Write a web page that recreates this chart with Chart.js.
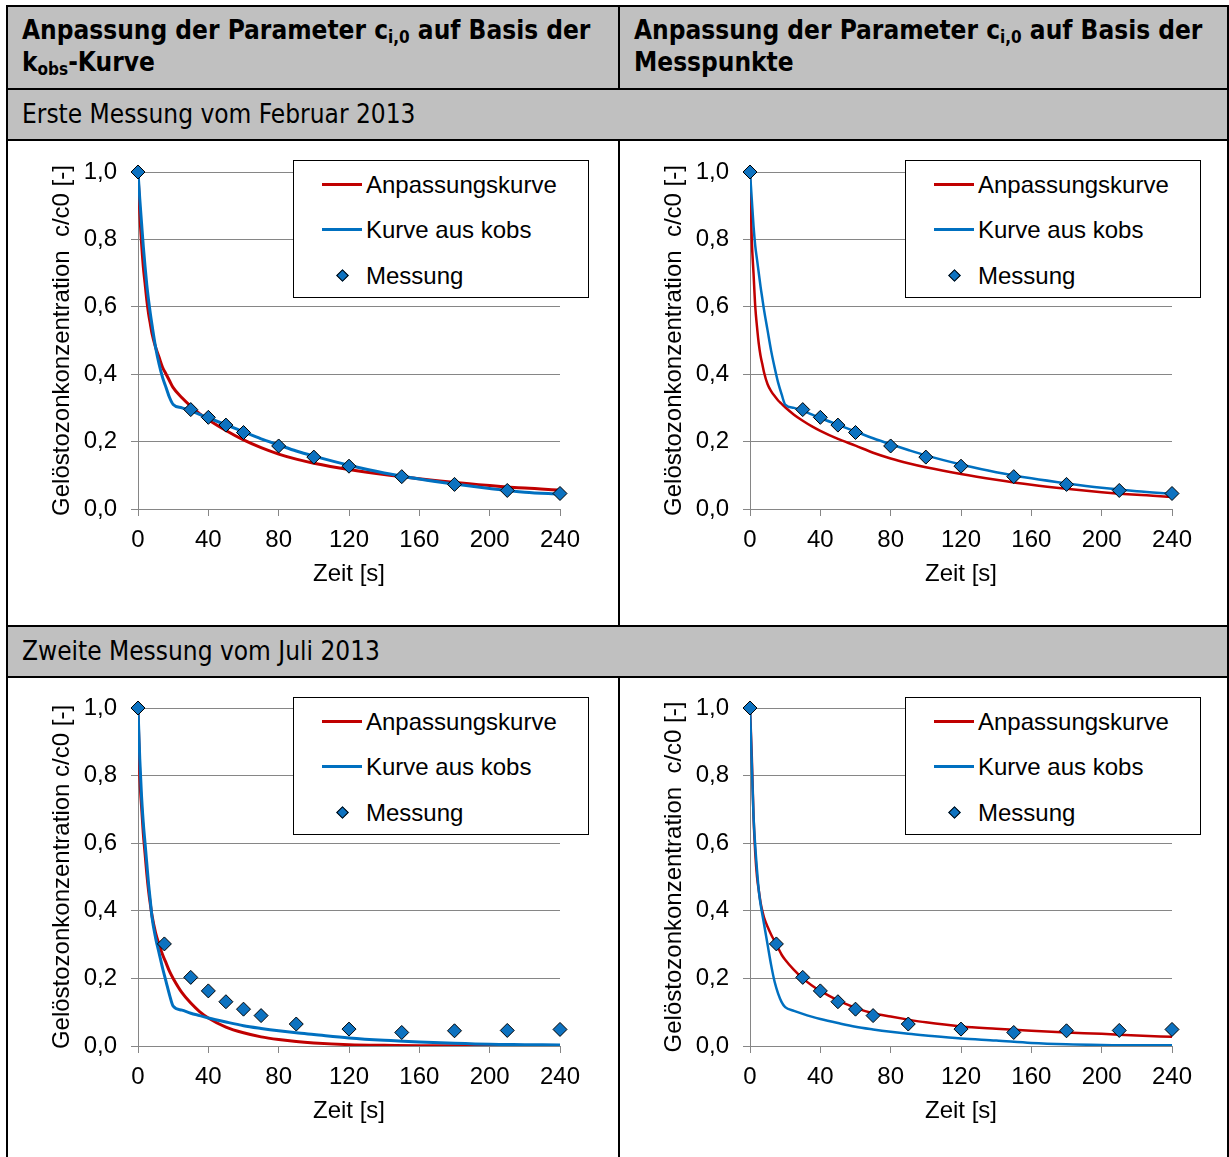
<!DOCTYPE html>
<html lang="de">
<head>
<meta charset="UTF-8">
<title>Gelöstozonkonzentration</title>
<script src="https://cdn.jsdelivr.net/npm/chart.js@4.4.1/dist/chart.umd.min.js"></script>
<style>
  body { margin: 0; background: #fff; }
  #sheet { position: absolute; left: 6px; top: 5px; width: 1223px; height: 1160px; background: #000; overflow: hidden; }
  .cell { position: absolute; background: #fff; }
  .gray { background: #c0c0c0; }
  .head { font-family: "DejaVu Sans Condensed", "DejaVu Sans", sans-serif; font-weight: bold; font-size: 26px; line-height: 32px; padding: 7px 0 0 14px; box-sizing: border-box; }
  .head sub { font-size: 17px; vertical-align: -4px; line-height: 0; }
  .section { font-family: "DejaVu Sans Condensed", "DejaVu Sans", sans-serif; font-size: 26px; line-height: 49px; padding-left: 14px; box-sizing: border-box; }
  .legend { position: absolute; top: 19px; width: 296px; height: 138px; border: 1px solid #000; background: #fff; box-sizing: border-box;
            font-family: "Liberation Sans", Arial, sans-serif; font-size: 24px; }
  .legend .row { position: absolute; left: 0; height: 30px; width: 100%; }
  .legend .swatch { position: absolute; left: 28px; top: 13px; width: 40px; height: 3px; }
  .legend .dia { position: absolute; left: 44px; top: 10px; width: 7px; height: 7px; border: 1px solid #000; transform: rotate(45deg); background: #0d72c0; }
  .legend .txt { position: absolute; left: 72px; top: 0; line-height: 30px; }
  canvas { position: absolute; left: 0; top: 0; }
</style>
</head>
<body>
<div id="sheet">
  <div class="cell gray head" style="left:2px;top:2px;width:610px;height:81px">Anpassung der Parameter c<sub>i,0</sub> auf Basis der<br>k<sub>obs</sub>-Kurve</div>
  <div class="cell gray head" style="left:614px;top:2px;width:607px;height:81px">Anpassung der Parameter c<sub>i,0</sub> auf Basis der<br>Messpunkte</div>
  <div class="cell gray section" style="left:2px;top:85px;width:1219px;height:49px">Erste Messung vom Februar 2013</div>
  <div class="cell" id="cell1" style="left:2px;top:136px;width:610px;height:484px"><canvas id="chart1" width="610" height="484"></canvas></div>
  <div class="cell" id="cell2" style="left:614px;top:136px;width:607px;height:484px"><canvas id="chart2" width="607" height="484"></canvas></div>
  <div class="cell gray section" style="left:2px;top:622px;width:1219px;height:49px">Zweite Messung vom Juli 2013</div>
  <div class="cell" id="cell3" style="left:2px;top:673px;width:610px;height:484px"><canvas id="chart3" width="610" height="484"></canvas></div>
  <div class="cell" id="cell4" style="left:614px;top:673px;width:607px;height:484px"><canvas id="chart4" width="607" height="484"></canvas></div>
</div>

<script>
// Zeitraster der berechneten Kurven [s]
const curveTimes = [0, 1, 2, 3, 4, 5, 6, 7, 8, 10, 12, 14, 16, 18, 20, 25, 30, 35, 40, 50, 60, 70, 80, 90, 100, 120, 140, 160, 180, 200, 220, 240];

// Februar 2013, Anpassung auf Basis der kobs-Kurve
const febFitKobs  = [1.0, 0.88, 0.79, 0.72, 0.67, 0.62, 0.58, 0.55, 0.52, 0.48, 0.45, 0.42, 0.40, 0.38, 0.36, 0.33, 0.305, 0.283, 0.265, 0.233, 0.205, 0.182, 0.163, 0.148, 0.136, 0.117, 0.102, 0.090, 0.079, 0.070, 0.062, 0.056];
const febKobs1    = [1.0, 0.92, 0.85, 0.78, 0.72, 0.665, 0.62, 0.58, 0.545, 0.48, 0.43, 0.39, 0.36, 0.33, 0.31, 0.30, 0.292, 0.281, 0.27, 0.25, 0.229, 0.208, 0.19, 0.172, 0.157, 0.13, 0.107, 0.089, 0.074, 0.061, 0.05, 0.044];
// Februar 2013, Anpassung auf Basis der Messpunkte
const febFitMess  = [1.0, 0.80, 0.70, 0.60, 0.54, 0.49, 0.455, 0.43, 0.405, 0.37, 0.35, 0.335, 0.322, 0.312, 0.302, 0.28, 0.262, 0.246, 0.232, 0.208, 0.188, 0.167, 0.15, 0.136, 0.124, 0.104, 0.087, 0.072, 0.06, 0.05, 0.042, 0.036];
const febKobs2    = [1.0, 0.92, 0.84, 0.78, 0.74, 0.70, 0.66, 0.625, 0.59, 0.53, 0.47, 0.42, 0.375, 0.34, 0.31, 0.30, 0.292, 0.281, 0.27, 0.25, 0.23, 0.21, 0.192, 0.175, 0.159, 0.132, 0.109, 0.091, 0.076, 0.063, 0.053, 0.045];
// Juli 2013, Anpassung auf Basis der kobs-Kurve
const julFitKobs  = [1.0, 0.80, 0.71, 0.63, 0.57, 0.51, 0.46, 0.42, 0.385, 0.335, 0.30, 0.27, 0.245, 0.22, 0.20, 0.158, 0.127, 0.102, 0.083, 0.056, 0.039, 0.027, 0.019, 0.013, 0.009, 0.004, 0.002, 0.001, 0.001, 0.0, 0.0, 0.0];
const julKobs1    = [1.0, 0.85, 0.74, 0.66, 0.60, 0.54, 0.48, 0.43, 0.38, 0.32, 0.275, 0.23, 0.19, 0.15, 0.118, 0.106, 0.097, 0.09, 0.083, 0.071, 0.06, 0.052, 0.045, 0.039, 0.034, 0.024, 0.017, 0.012, 0.008, 0.005, 0.004, 0.003];
// Juli 2013, Anpassung auf Basis der Messpunkte
const julFitMess  = [1.0, 0.86, 0.68, 0.57, 0.50, 0.46, 0.425, 0.40, 0.38, 0.353, 0.33, 0.31, 0.29, 0.27, 0.255, 0.225, 0.20, 0.18, 0.163, 0.135, 0.113, 0.097, 0.087, 0.078, 0.07, 0.058, 0.051, 0.045, 0.04, 0.036, 0.031, 0.027];
const julKobs2    = [1.0, 0.84, 0.68, 0.59, 0.52, 0.46, 0.42, 0.39, 0.36, 0.30, 0.24, 0.19, 0.155, 0.13, 0.115, 0.104, 0.095, 0.087, 0.08, 0.068, 0.057, 0.049, 0.042, 0.036, 0.031, 0.022, 0.016, 0.009, 0.005, 0.003, 0.002, 0.002];

// Messpunkte
const febMessTimes  = [0, 30, 40, 50, 60, 80, 100, 120, 150, 180, 210, 240];
const febMessValues = [1.0, 0.295, 0.272, 0.249, 0.227, 0.187, 0.154, 0.127, 0.096, 0.073, 0.055, 0.046];
const julMessTimes  = [0, 15, 30, 40, 50, 60, 70, 90, 120, 150, 180, 210, 240];
const julMessValues = [1.0, 0.302, 0.203, 0.163, 0.131, 0.109, 0.09, 0.065, 0.05, 0.04, 0.045, 0.046, 0.049];

const legendLabels = ['Anpassungskurve', 'Kurve aus kobs', 'Messung'];

const RED = '#c00000';
const BLUE = '#0070c0';
const MARKER = '#0d72c0';
const GRID = '#868686';

Chart.defaults.font.family = '"Liberation Sans", Arial, sans-serif';
Chart.defaults.font.size = 24;
Chart.defaults.color = '#000';

function toPoints(times, values) {
    return times.map((t, i) => ({ x: t, y: values[i] }));
}

function addLegend(cellId) {
    const box = document.createElement('div');
    box.className = 'legend';
    box.style.left = '285px';
    const rows = [
        '<div class="swatch" style="background:' + RED + '"></div>',
        '<div class="swatch" style="background:' + BLUE + '"></div>',
        '<div class="dia"></div>'
    ];
    const tops = [9, 54, 100];
    rows.forEach((mark, i) => {
        const row = document.createElement('div');
        row.className = 'row';
        row.style.top = tops[i] + 'px';
        row.innerHTML = mark + '<div class="txt">' + legendLabels[i] + '</div>';
        box.appendChild(row);
    });
    document.getElementById(cellId).appendChild(box);
}

function makeChart(id, fitValues, kobsValues, messTimes, messValues, opts) {
    new Chart(document.getElementById(id), {
        type: 'scatter',
        data: {
            datasets: [
                {
                    label: legendLabels[2],
                    data: toPoints(messTimes, messValues),
                    pointStyle: 'rectRot',
                    pointRadius: 7,
                    backgroundColor: MARKER,
                    borderColor: '#000',
                    borderWidth: 1,
                    clip: false,
                    order: 0
                },
                {
                    label: legendLabels[1],
                    data: toPoints(curveTimes, kobsValues),
                    showLine: true,
                    borderColor: BLUE,
                    borderWidth: opts.lineWidth,
                    pointRadius: 0,
                    cubicInterpolationMode: 'monotone',
                    order: 1
                },
                {
                    label: legendLabels[0],
                    data: toPoints(curveTimes, fitValues),
                    showLine: true,
                    borderColor: RED,
                    borderWidth: opts.lineWidth,
                    pointRadius: 0,
                    cubicInterpolationMode: 'monotone',
                    order: 2
                }
            ]
        },
        options: {
            responsive: false,
            animation: false,
            events: [],
            layout: { padding: { left: 40, top: opts.top, right: opts.right, bottom: 36 } },
            scales: {
                x: {
                    type: 'linear',
                    min: 0,
                    max: 240,
                    ticks: { stepSize: 40, padding: 10 },
                    grid: { drawOnChartArea: false, drawTicks: true, tickLength: 7, color: GRID },
                    border: { color: GRID },
                    title: { display: true, text: 'Zeit [s]', padding: 0 },
                    afterFit: scale => { scale.height = 80; }
                },
                y: {
                    min: 0,
                    max: 1,
                    ticks: {
                        stepSize: 0.2,
                        padding: 14,
                        callback: v => v.toFixed(1).replace('.', ',')
                    },
                    grid: { color: GRID, tickLength: 7 },
                    border: { color: GRID },
                    title: { display: true, text: opts.yTitle, padding: 0 },
                    afterFit: scale => { scale.width = 90; }
                }
            },
            plugins: {
                legend: { display: false },
                tooltip: { enabled: false }
            }
        }
    });
    addLegend(opts.cell);
}

const yTitle = 'Gelöstozonkonzentration  c/c0 [-]';

makeChart('chart1', febFitKobs, febKobs1, febMessTimes, febMessValues, { cell: 'cell1', lineWidth: 3, top: 31, right: 58, yTitle: yTitle });
makeChart('chart2', febFitMess, febKobs2, febMessTimes, febMessValues, { cell: 'cell2', lineWidth: 2.5, top: 31, right: 55, yTitle: yTitle });
makeChart('chart3', julFitKobs, julKobs1, julMessTimes, julMessValues, { cell: 'cell3', lineWidth: 3, top: 30, right: 58, yTitle: 'Gelöstozonkonzentration c/c0 [-]' });
makeChart('chart4', julFitMess, julKobs2, julMessTimes, julMessValues, { cell: 'cell4', lineWidth: 2.5, top: 30, right: 55, yTitle: yTitle });
</script>
</body>
</html>
